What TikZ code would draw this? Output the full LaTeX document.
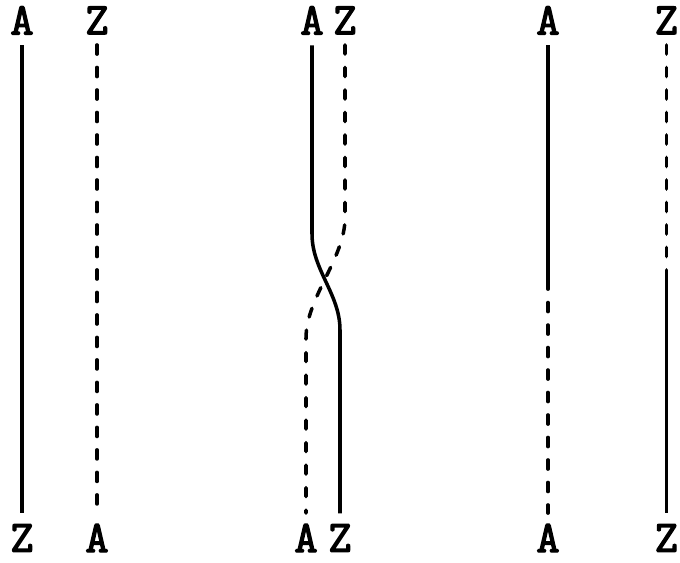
\documentclass[tikz,border=0pt]{standalone}
\usepackage{fontspec}
\newfontfamily\labelfont{Latin Modern Mono}[FakeBold=3]
\usepackage{tikz}

\begin{document}
\begin{tikzpicture}[every node/.style={font=\fontsize{32}{34}\selectfont\labelfont, inner sep=0.5pt},
  strand/.style={line width=2.5pt},
  dstrand/.style={line width=2.5pt, line cap=round, dash pattern=on 6.5pt off 9.5pt}]
  \useasboundingbox (0,0) rectangle (17,14.05);
  \node (a1) at (0.55,13.54) {A};
  \node (z1) at (2.425,13.54) {Z};
  \node (z1b) at (0.55,0.6) {Z};
  \node (a1b) at (2.425,0.6) {A};
  \draw[strand, shorten <=7pt, shorten >=7pt] (a1) -- (z1b);
  \draw[dstrand, shorten <=7pt, shorten >=7pt] (z1) -- (a1b);
  \node (a2) at (7.8,13.54) {A};
  \node (z2) at (8.625,13.54) {Z};
  \node (a2b) at (7.65,0.6) {A};
  \node (z2b) at (8.5,0.6) {Z};
  \coordinate (s2t) at (7.8,8.2);
  \coordinate (s2b) at (8.5,5.8);
  \coordinate (d2t) at (8.625,8.6);
  \coordinate (d2b) at (7.65,5.6);
  \draw[strand, shorten <=7pt, shorten >=7pt] (a2) -- (s2t) .. controls (7.8,7.3) and (8.5,6.7) .. (s2b) -- (z2b);
  \draw[dstrand, shorten <=7pt, shorten >=7pt] (z2) -- (d2t) .. controls (8.625,7.6) and (7.65,6.6) .. (d2b) -- (a2b);
  \node (a3) at (13.7,13.54) {A};
  \node (z3) at (16.66,13.54) {Z};
  \node (a3b) at (13.7,0.6) {A};
  \node (z3b) at (16.66,0.6) {Z};
  \coordinate (m3) at (13.7,7.05);
  \coordinate (n3) at (16.66,7.1);
  \draw[strand, shorten <=7pt] (a3) -- (m3);
  \draw[dstrand, shorten >=7pt] (m3) -- (a3b);
  \draw[dstrand, shorten <=7pt] (z3) -- (n3);
  \draw[strand, shorten >=7pt] (n3) -- (z3b);
\end{tikzpicture}
\end{document}
